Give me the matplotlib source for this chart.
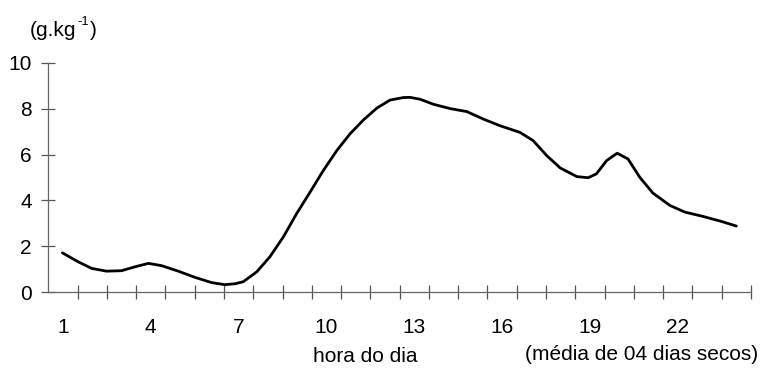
import matplotlib
matplotlib.use("Agg")
import matplotlib.pyplot as plt
import numpy as np

plt.rcParams['font.family'] = ['Liberation Sans', 'DejaVu Sans']

# hour of day and specific humidity (g/kg)
hours = [0.98, 1.52, 1.98, 2.49, 3.0, 3.46, 3.92, 4.37, 4.94, 5.51, 6.08, 6.53,
         6.88, 7.16, 7.62, 8.07, 8.53, 8.98, 9.44, 9.89, 10.35, 10.80, 11.26,
         11.72, 12.17, 12.62, 12.85, 13.19, 13.65, 14.22, 14.79, 15.36, 15.93,
         16.61, 17.06, 17.52, 17.98, 18.55, 18.94, 19.22, 19.57, 19.93, 20.3,
         20.7, 21.15, 21.73, 22.24, 22.86, 23.44, 24.0]
humidity = [1.71, 1.32, 1.03, 0.91, 0.93, 1.10, 1.25, 1.15, 0.91, 0.64, 0.41, 0.32,
            0.36, 0.45, 0.88, 1.54, 2.41, 3.42, 4.36, 5.30, 6.17, 6.90, 7.51,
            8.03, 8.38, 8.49, 8.50, 8.42, 8.20, 8.01, 7.88, 7.55, 7.26,
            6.97, 6.61, 5.96, 5.42, 5.04, 4.99, 5.16, 5.74, 6.06, 5.81,
            5.01, 4.32, 3.78, 3.49, 3.30, 3.10, 2.88]

xtick_labels = [1, 4, 7, 10, 13, 16, 19, 22]
ytick_labels = [0, 2, 4, 6, 8, 10]

FS = 15

fig = plt.figure(figsize=(7.61, 3.68), dpi=100)
ax = fig.add_axes([48.3 / 761, 1 - 292 / 368, (751 - 48.3) / 761, (292 - 63) / 368])

ax.plot(hours, humidity, color='black', lw=2.0, solid_joinstyle='round',
        solid_capstyle='round')

ax.set_xlim(0.5, 24.5)
ax.set_ylim(0, 10)

for s in ['top', 'right']:
    ax.spines[s].set_visible(False)
for s in ['left', 'bottom']:
    ax.spines[s].set_color('#666666')
    ax.spines[s].set_linewidth(0.9)

ax.set_xticks(xtick_labels)
ax.set_xticklabels([str(v) for v in xtick_labels])
ax.set_xticks(np.arange(1.5, 24.6, 1.0), minor=True)
ax.tick_params(axis='x', which='major', length=0, pad=19, labelsize=FS)
ax.tick_params(axis='x', which='minor', direction='inout', length=9.5,
               width=0.9, color='#555555')

ax.set_yticks(ytick_labels)
ax.set_yticklabels([str(v) for v in ytick_labels])
ax.tick_params(axis='y', which='major', direction='inout', length=9.5,
               width=0.9, color='#555555', pad=7, labelsize=FS)

# y-unit label "(g.kg-1)" with a superscript hyphen-one
t1 = fig.text(30 / 761, 1 - 30 / 368, '(g.kg', fontsize=FS, ha='left', va='center')
fig.canvas.draw()
r = fig.canvas.get_renderer()
bb = t1.get_window_extent(r)
t2 = fig.text(bb.x1 / 761 + 0.5 / 761, 1 - 22 / 368, '-1', fontsize=FS * 0.62,
              ha='left', va='center')
bb2 = t2.get_window_extent(r)
fig.text(bb2.x1 / 761 + 1 / 761, 1 - 30 / 368, ')', fontsize=FS, ha='left', va='center')

fig.text(313 / 761, 1 - 357 / 368, 'hora do dia', fontsize=FS,
         ha='left', va='center')
fig.text(758 / 761, 1 - 355 / 368, '(média de 04 dias secos)', fontsize=FS,
         ha='right', va='center')

fig.savefig('out.png', dpi=100)
